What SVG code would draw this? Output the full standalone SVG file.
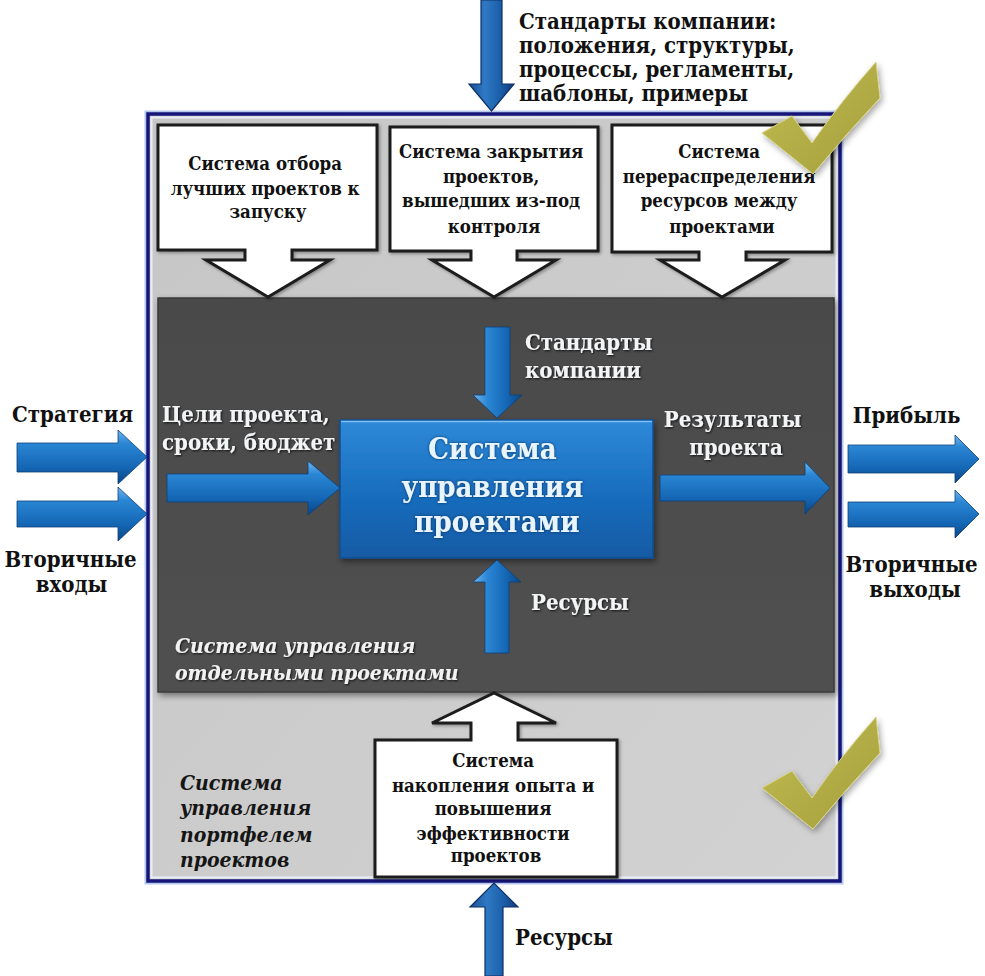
<svg xmlns="http://www.w3.org/2000/svg" width="985" height="976" viewBox="0 0 985 976">
  <defs>
    <style>
      .t { font-family: "DejaVu Serif Condensed", "DejaVu Serif", serif; font-weight: bold; }
      .boxtxt { font-size: 18.5px; fill: #111111; text-anchor: middle; }
      .ext { font-size: 22px; fill: #111111; }
      .light { font-size: 22px; fill: #f2f4f6; filter: url(#txtShadow); }
      .wbox { fill: #ffffff; stroke: #1c1c1c; stroke-width: 3; stroke-linejoin: miter; filter: url(#boxShadow); }
      .barH { fill: url(#blueH); stroke: #0c3f78; stroke-width: 0.8; }
      .barV { fill: url(#blueV); stroke: #0c3f78; stroke-width: 0.8; }
      .bigV { fill: url(#navyV); stroke: #0e2f66; stroke-width: 1.2; }
      .check { fill: url(#olive); stroke: #d8d48a; stroke-width: 1; filter: url(#chkShadow); }
    </style>
    <linearGradient id="blueH" x1="0" y1="0" x2="0" y2="1">
      <stop offset="0" stop-color="#6fb6ef"/>
      <stop offset="0.25" stop-color="#2a86d4"/>
      <stop offset="0.7" stop-color="#1466b4"/>
      <stop offset="1" stop-color="#0b4584"/>
    </linearGradient>
    <linearGradient id="blueV" x1="0" y1="0" x2="1" y2="0">
      <stop offset="0" stop-color="#6fb6ef"/>
      <stop offset="0.3" stop-color="#2a86d4"/>
      <stop offset="0.7" stop-color="#1466b4"/>
      <stop offset="1" stop-color="#0b4584"/>
    </linearGradient>
    <linearGradient id="navyV" x1="0" y1="0" x2="1" y2="0">
      <stop offset="0" stop-color="#1b4f94"/>
      <stop offset="0.35" stop-color="#2f79c4"/>
      <stop offset="0.7" stop-color="#1a5ea8"/>
      <stop offset="1" stop-color="#0f3b78"/>
    </linearGradient>
    <linearGradient id="core" x1="0" y1="0" x2="0" y2="1">
      <stop offset="0" stop-color="#2e8ad8"/>
      <stop offset="0.5" stop-color="#1a6fc0"/>
      <stop offset="1" stop-color="#125aa4"/>
    </linearGradient>
    <linearGradient id="panel" x1="0" y1="0" x2="0" y2="1">
      <stop offset="0" stop-color="#4a4a4a"/>
      <stop offset="1" stop-color="#505050"/>
    </linearGradient>
    <linearGradient id="field" x1="0" y1="0" x2="1" y2="1">
      <stop offset="0" stop-color="#c6c6c6"/>
      <stop offset="1" stop-color="#d2d2d2"/>
    </linearGradient>
    <linearGradient id="olive" x1="0" y1="0" x2="1" y2="1">
      <stop offset="0" stop-color="#c2bc52"/>
      <stop offset="1" stop-color="#a59f3c"/>
    </linearGradient>
    <filter id="boxShadow" x="-10%" y="-10%" width="125%" height="125%">
      <feDropShadow dx="1.5" dy="1.5" stdDeviation="1.5" flood-color="#000" flood-opacity="0.35"/>
    </filter>
    <filter id="panelShadow" x="-5%" y="-5%" width="112%" height="112%">
      <feDropShadow dx="2" dy="3" stdDeviation="3" flood-color="#000" flood-opacity="0.45"/>
    </filter>
    <filter id="txtShadow" x="-5%" y="-20%" width="115%" height="150%">
      <feDropShadow dx="1" dy="1" stdDeviation="1" flood-color="#000" flood-opacity="0.8"/>
    </filter>
    <filter id="glow" x="-10%" y="-20%" width="120%" height="150%">
      <feDropShadow dx="0" dy="0" stdDeviation="1.6" flood-color="#0a2a55" flood-opacity="0.9"/>
    </filter>
    <filter id="chkShadow" x="-20%" y="-20%" width="150%" height="150%">
      <feDropShadow dx="2" dy="3" stdDeviation="3" flood-color="#000" flood-opacity="0.35"/>
    </filter>
  </defs>

  <rect width="985" height="976" fill="#ffffff"/>

  <!-- portfolio frame -->
  <g id="portfolio">
    <rect x="147" y="113" width="694" height="769" fill="none" stroke="#b4c8ec" stroke-width="5"/>
    <rect x="148" y="114" width="692" height="767" fill="url(#field)" stroke="#15157a" stroke-width="3.5"/>
    <rect x="151.5" y="117.5" width="685" height="760" fill="none" stroke="#e9eef6" stroke-width="2"/>
    <text class="t" font-style="italic" font-size="21" fill="#151515">
      <tspan x="180" y="790">Система</tspan>
      <tspan x="180" y="815">управления</tspan>
      <tspan x="180" y="842">портфелем</tspan>
      <tspan x="180" y="867">проектов</tspan>
    </text>
  </g>

  <!-- single-project management panel -->
  <g id="project-panel">
    <rect x="158" y="298" width="676" height="394" fill="url(#panel)" stroke="#3a3a3a" stroke-width="1.5" filter="url(#panelShadow)"/>
    <text class="t" font-style="italic" font-size="21" fill="#f2f2f2" filter="url(#txtShadow)">
      <tspan x="175" y="653">Система управления</tspan>
      <tspan x="175" y="680">отдельными проектами</tspan>
    </text>
  </g>

  <!-- top systems -->
  <g id="selection">
    <path class="wbox" d="M158,125 H377 V250 H292 V260 H330 L268,297 L206,260 H245 V250 H158 Z"/>
    <text class="t boxtxt">
      <tspan x="268" y="170">Система отбора</tspan>
      <tspan x="268" y="195">лучших проектов к</tspan>
      <tspan x="268" y="218">запуску</tspan>
    </text>
  </g>
  <g id="closure">
    <path class="wbox" d="M390,127 H598 V251 H517 V260 H556 L494,297 L432,260 H471 V251 H390 Z"/>
    <text class="t boxtxt">
      <tspan x="494" y="158">Система закрытия</tspan>
      <tspan x="494" y="183">проектов,</tspan>
      <tspan x="494" y="207">вышедших из-под</tspan>
      <tspan x="494" y="233">контроля</tspan>
    </text>
  </g>
  <g id="reallocation">
    <path class="wbox" d="M612,125 H832 V252 H746 V260 H785 L722,297 L660,260 H699 V252 H612 Z"/>
    <text class="t boxtxt">
      <tspan x="722" y="158">Система</tspan>
      <tspan x="722" y="183">перераспределения</tspan>
      <tspan x="722" y="207">ресурсов между</tspan>
      <tspan x="722" y="233">проектами</tspan>
    </text>
  </g>

  <!-- bottom system -->
  <g id="experience">
    <path class="wbox" d="M375,740 H471 V723 H432 L494,693 L556,723 H518 V740 H617 V877 H375 Z"/>
    <text class="t boxtxt" font-size="17.5">
      <tspan x="496" y="767">Система</tspan>
      <tspan x="496" y="792">накопления опыта и</tspan>
      <tspan x="496" y="815">повышения</tspan>
      <tspan x="496" y="840">эффективности</tspan>
      <tspan x="496" y="862">проектов</tspan>
    </text>
  </g>

  <!-- core system -->
  <g id="core-system">
    <rect x="340" y="420" width="313" height="138" fill="url(#core)" stroke="#0e4f95" stroke-width="1.5" filter="url(#panelShadow)"/>
    <line x1="341" y1="421.5" x2="652" y2="421.5" stroke="#7cc0f2" stroke-width="1.5"/>
    <text class="t" font-size="29" fill="#e8f5ff" text-anchor="middle" filter="url(#glow)">
      <tspan x="497" y="459">Система</tspan>
      <tspan x="497" y="497">управления</tspan>
      <tspan x="497" y="532">проектами</tspan>
    </text>
  </g>

  <!-- connectors -->
  <g id="connectors">
    <!-- external inputs and outputs of the portfolio -->
    <path class="bigV" d="M481,0 H502 V84 H514 L491.5,111 L469,84 H481 Z"/>
    <path class="bigV" d="M485,976 V907 H470 L494,883 L518,907 H503 V976 Z"/>
    <path class="barH" d="M17,443 H118 V430 L147,457 L118,484 V472 H17 Z"/>
    <path class="barH" d="M17,501 H118 V487 L147,514 L118,541 V527 H17 Z"/>
    <path class="barH" d="M848,445 H955 V435 L979,459 L955,483 V473 H848 Z"/>
    <path class="barH" d="M848,502 H955 V490 L979,514 L955,538 V527 H848 Z"/>
    <!-- flows around the core system -->
    <path class="barH" d="M167,474 H308 V461 L340,488 L308,515 V502 H167 Z"/>
    <path class="barH" d="M660,475 H805 V462 L830,488 L805,514 V501 H660 Z"/>
    <path class="barV" d="M485,327 H510 V395 H522 L497,418 L473,395 H485 Z"/>
    <path class="barV" d="M485,653 V582 H473 L497,560 L521,582 H509 V653 Z"/>
  </g>

  <!-- labels -->
  <g id="labels">
    <text class="t ext" font-size="24">
      <tspan x="519" y="29">Стандарты компании:</tspan>
      <tspan x="519" y="53">положения, структуры,</tspan>
      <tspan x="519" y="77">процессы, регламенты,</tspan>
      <tspan x="519" y="101">шаблоны, примеры</tspan>
    </text>
    <text class="t ext" text-anchor="middle">
      <tspan x="76" y="422">Стратегия</tspan>
      <tspan x="74" y="567">Вторичные</tspan>
      <tspan x="75" y="592">входы</tspan>
      <tspan x="910" y="423">Прибыль</tspan>
      <tspan x="915" y="572">Вторичные</tspan>
      <tspan x="915" y="597">выходы</tspan>
    </text>
    <text class="t ext" x="515" y="945">Ресурсы</text>
    <text class="t light">
      <tspan x="525" y="350">Стандарты</tspan>
      <tspan x="525" y="378">компании</tspan>
      <tspan x="162" y="422">Цели проекта,</tspan>
      <tspan x="162" y="450">сроки, бюджет</tspan>
      <tspan x="531" y="610">Ресурсы</tspan>
    </text>
    <text class="t light" text-anchor="middle">
      <tspan x="736" y="427">Результаты</tspan>
      <tspan x="736" y="455">проекта</tspan>
    </text>
  </g>

  <!-- check marks -->
  <g id="check-top">
    <path class="check" d="M762,133 L792,116 L812,143 Q842,100 876,62 L880,98 Q846,134 813,174 Z"/>
  </g>
  <g id="check-bottom">
    <path class="check" d="M762,788 L792,771 L812,798 Q842,755 876,717 L880,753 Q846,789 813,829 Z"/>
  </g>
</svg>
